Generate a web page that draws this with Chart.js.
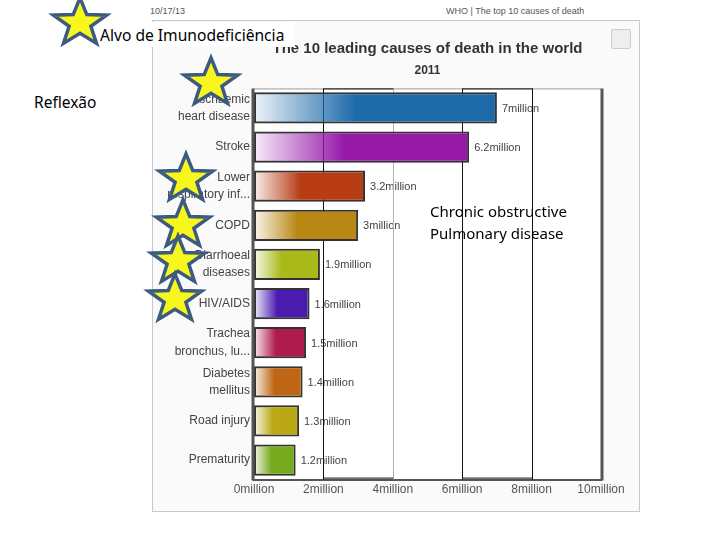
<!DOCTYPE html>
<html>
<head>
<meta charset="utf-8">
<script src="https://cdn.jsdelivr.net/npm/chart.js@4.4.1/dist/chart.umd.min.js"></script>
<style>
  body { margin: 0; background: #fff; width: 720px; height: 540px; position: relative; overflow: hidden; font-family: "Liberation Sans", Arial, sans-serif; }
  #frame { position: absolute; left: 152px; top: 20px; width: 488px; height: 492px; box-sizing: border-box; border: 1px solid #c8c8c8; background: #fafafa; }
  #frame canvas { display: block; }
  .hdr { position: absolute; top: 6px; font-size: 9px; color: #555; }
  .note { position: absolute; font-family: "Noto Sans", sans-serif; color: #000; white-space: nowrap; }
  #dl { position: absolute; left: 611px; top: 29px; width: 18px; height: 18px; border: 1px solid #ccc; border-radius: 2px; background: #eee; }
  svg.star { position: absolute; overflow: visible; }
</style>
</head>
<body>
<div class="hdr" style="left:150px">10/17/13</div>
<div class="hdr" style="left:446px">WHO | The top 10 causes of death</div>
<div id="frame"><canvas id="mychart1" width="486" height="490"></canvas></div>
<div id="dl"></div>
<div class="note" style="left:95px;top:22px;width:200px;height:25px;background:#fff;font-size:15.6px;line-height:26px;padding-left:5px;box-sizing:border-box">Alvo de Imunodeficiência</div>
<div class="note" style="left:34px;top:91px;font-size:15.5px">Reflexão</div>
<div class="note" style="left:430px;top:200px;font-size:15px;line-height:22px">Chronic obstructive<br>Pulmonary disease</div>
<div id="stars"></div>
<script>
// data (2011, deaths in millions)
var causes = [['Ischaemic', 'heart disease'], 'Stroke', ['Lower', 'respiratory inf...'], 'COPD',
  ['Diarrhoeal', 'diseases'], 'HIV/AIDS', ['Trachea', 'bronchus, lu...'], ['Diabetes', 'mellitus'],
  'Road injury', 'Prematurity'];
var deaths = [7, 6.2, 3.2, 3, 1.9, 1.6, 1.5, 1.4, 1.3, 1.2];
var barColors = ['#1d6aa8', '#9619a8', '#b83c14', '#b98714', '#a9b91a', '#4b1bb0', '#b01b4d', '#bf6614', '#bba816', '#78aa1e'];
var xTicks = [0, 2, 4, 6, 8, 10];
var bands = [[2, 4], [6, 8]];

function hexRgba(hex, a) {
  var n = parseInt(hex.slice(1), 16);
  return 'rgba(' + (n >> 16) + ',' + ((n >> 8) & 255) + ',' + (n & 255) + ',' + a + ')';
}

var whoPlot = {
  id: 'whoPlot',
  beforeDraw: function (chart) {
    var a = chart.chartArea, c = chart.ctx;
    c.save();
    c.fillStyle = '#fff';
    c.fillRect(a.left, a.top, a.right - a.left, a.bottom - a.top);
    c.restore();
  },
  beforeDatasetsDraw: function (chart) {
    var c = chart.ctx, a = chart.chartArea, x = chart.scales.x;
    var meta = chart.getDatasetMeta(0);
    c.save();
    // value labels
    c.font = '11px "Liberation Sans", Arial, sans-serif';
    c.fillStyle = '#444';
    c.textBaseline = 'middle';
    meta.data.forEach(function (el, i) {
      c.fillText(deaths[i] + 'million', el.x + 5, el.y + 1);
    });
    // top edge
    c.strokeStyle = '#999';
    c.lineWidth = 1;
    c.beginPath();
    c.moveTo(a.left, a.top + 0.5);
    c.lineTo(a.right, a.top + 0.5);
    c.stroke();
    // inner grid lines
    xTicks.forEach(function (v) {
      if (v === 0 || v === 10) return;
      var px = Math.round(x.getPixelForValue(v)) + 0.5;
      c.strokeStyle = (v === 4) ? '#b0b0b0' : '#111';
      c.beginPath();
      c.moveTo(px, a.top);
      c.lineTo(px, a.bottom);
      c.stroke();
    });
    // band boxes
    c.strokeStyle = '#111';
    bands.forEach(function (b) {
      var p0 = Math.round(x.getPixelForValue(b[0])) + 0.5, p1 = Math.round(x.getPixelForValue(b[1])) + 0.5;
      c.beginPath();
      c.moveTo(p0, a.top + 0.5); c.lineTo(p1, a.top + 0.5);
      c.moveTo(p0, a.bottom - 1.5); c.lineTo(p1, a.bottom - 1.5);
      c.stroke();
    });
    c.restore();
  },
  afterDraw: function (chart) {
    var c = chart.ctx, a = chart.chartArea;
    c.save();
    c.strokeStyle = '#555';
    c.lineWidth = 3;
    c.beginPath();
    c.moveTo(a.left - 1, a.top); c.lineTo(a.left - 1, a.bottom + 1);
    c.moveTo(a.right + 1, a.top); c.lineTo(a.right + 1, a.bottom + 1);
    c.stroke();
    c.restore();
  }
};

function BuildChart(labels, values, chartTitle) {
  var ctx = document.getElementById('mychart1').getContext('2d');
  var mychart = new Chart(ctx, {
    type: 'bar',
    data: {
      labels: labels,
      datasets: [{
        label: chartTitle,
        data: values,
        backgroundColor: function (context) {
          var col = barColors[context.dataIndex];
          var x = context.chart.scales.x;
          if (!x || context.type !== 'data') return col;
          var x0 = x.getPixelForValue(0);
          var x1 = x.getPixelForValue(values[context.dataIndex]);
          if (!isFinite(x0) || !isFinite(x1)) return col;
          var g = context.chart.ctx.createLinearGradient(x0, 0, x0 + (x1 - x0) * 0.42, 0);
          g.addColorStop(0, hexRgba(col, 0.08));
          g.addColorStop(1, col);
          return g;
        },
        borderColor: '#333',
        borderWidth: 2,
        borderSkipped: false,
        barPercentage: 0.8,
        categoryPercentage: 1
      }]
    },
    options: {
      indexAxis: 'y',
      responsive: false,
      animation: false,
      layout: { padding: { left: 1, right: 38, top: 0, bottom: 11 } },
      plugins: {
        legend: { display: false },
        tooltip: { enabled: false },
        title: {
          display: true, text: 'The 10 leading causes of death in the world', fullSize: false,
          color: '#333', font: { family: '"Liberation Sans", Arial, sans-serif', size: 15, weight: 'bold' },
          padding: { top: 19, bottom: 5 }
        },
        subtitle: {
          display: true, text: '2011', fullSize: false,
          color: '#333', font: { family: '"Liberation Sans", Arial, sans-serif', size: 12, weight: 'bold' },
          padding: { top: 0, bottom: 11 }
        }
      },
      scales: {
        x: {
          min: 0, max: 10,
          afterBuildTicks: function (scale) { scale.ticks = xTicks.map(function (v) { return { value: v }; }); },
          ticks: {
            padding: 3, color: '#555',
            font: { family: '"Liberation Sans", Arial, sans-serif', size: 12 },
            callback: function (v) { return v + 'million'; }
          },
          grid: { display: false, drawTicks: false },
          border: { display: true, color: '#555', width: 2 }
        },
        y: {
          afterFit: function (scale) { scale.width = 100; },
          ticks: {
            padding: 4, color: '#444',
            font: { family: '"Liberation Sans", Arial, sans-serif', size: 12, lineHeight: 1.42 }
          },
          grid: { display: false, drawTicks: false },
          border: { display: false }
        }
      }
    },
    plugins: [whoPlot]
  });
  return mychart;
}

BuildChart(causes, deaths, 'Deaths');

// decoration stars from the slide
var starSpots = [[80, 21], [211, 81], [186, 177], [183, 223], [178, 259], [175, 297]];
var html = '';
starSpots.forEach(function (s) {
  var pts = [];
  for (var k = 0; k < 10; k++) {
    var r = (k % 2 === 0) ? 28 : 11.5;
    var ang = -Math.PI / 2 + k * Math.PI / 5;
    pts.push((r * Math.cos(ang)).toFixed(1) + ',' + (r * Math.sin(ang) * 0.9).toFixed(1));
  }
  html += '<svg class="star" width="1" height="1" style="left:' + s[0] + 'px;top:' + (s[1] + 2) + 'px">' +
    '<polygon points="' + pts.join(' ') + '" fill="#f7f71e" stroke="#3d5a80" stroke-width="3.5" stroke-linejoin="miter"/></svg>';
});
document.getElementById('stars').innerHTML = html;
</script>
</body>
</html>
